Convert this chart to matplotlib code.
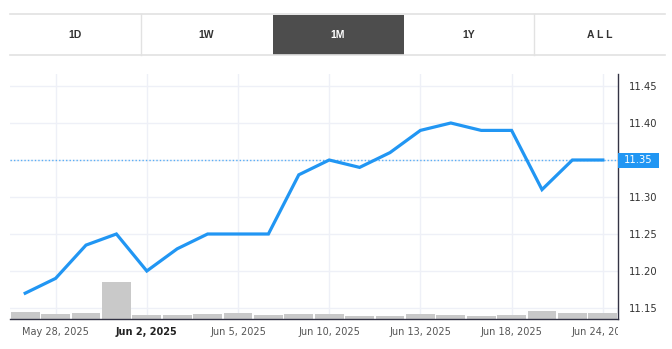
import numpy as np
import matplotlib
matplotlib.use("Agg")
import matplotlib.pyplot as plt
from matplotlib.patches import Rectangle
from matplotlib.lines import Line2D
from matplotlib.transforms import Bbox, TransformedBbox

# data (trading days, May 27 - Jun 24 2025)
dates = ["May 27", "May 28", "May 29", "May 30", "Jun 2", "Jun 3", "Jun 4", "Jun 5",
         "Jun 6", "Jun 9", "Jun 10", "Jun 11", "Jun 12", "Jun 13", "Jun 16", "Jun 17",
         "Jun 18", "Jun 20", "Jun 23", "Jun 24"]
price = [11.17, 11.19, 11.235, 11.25, 11.20, 11.23, 11.25, 11.25, 11.25, 11.33,
         11.35, 11.34, 11.36, 11.39, 11.40, 11.39, 11.39, 11.31, 11.35, 11.35]
volume = [67, 53, 57, 370, 37, 37, 47, 57, 37, 47,
          47, 27, 27, 47, 37, 27, 37, 83, 57, 57]
last_price = 11.35
xtick_pos = [1, 4, 7, 10, 13, 16, 19]
xtick_labels = ["May 28, 2025", "Jun 2, 2025", "Jun 5, 2025", "Jun 10, 2025",
                "Jun 13, 2025", "Jun 18, 2025", "Jun 24, 2025"]
yticks = [11.15, 11.20, 11.25, 11.30, 11.35, 11.40, 11.45]
buttons = ["1D", "1W", "1M", "1Y", "A L L"]
active = "1M"

W, H = 672, 349
fig = plt.figure(figsize=(W / 100, H / 100), dpi=100)

# ---- range buttons (pixel overlay) ----
top = fig.add_axes([0, 0, 1, 1])
top.set_xlim(0, W)
top.set_ylim(H, 0)
top.axis("off")
edges = [10, 140.5, 272.5, 403.5, 534, 665]
for i, b in enumerate(buttons):
    x0, x1 = edges[i], edges[i + 1]
    if b == active:
        top.add_patch(Rectangle((x0, 14.5), x1 - x0, 40, color="#4d4d4d", lw=0))
        col = "white"
    else:
        col = "#333333"
    top.text((x0 + x1) / 2, 35, b, ha="center", va="center", fontsize=7.5,
             fontweight="bold", color=col, family="Liberation Sans")
top.add_line(Line2D([10, 665], [14, 14], color="#e2e2e2", lw=1.2))
top.add_line(Line2D([10, 665], [55, 55], color="#e2e2e2", lw=1.2))
for xs in [140.5, 534]:
    top.add_line(Line2D([xs, xs], [14, 55], color="#e2e2e2", lw=1.0))

# ---- price chart ----
ax = fig.add_axes([10 / W, 30 / H, 608 / W, 245 / H])
idx = np.arange(len(price))
ax.set_xlim(-0.5, len(price) - 0.5)
step = 0.05 / 37
ax.set_ylim(11.15 - 11 * step, 11.45 + 12 * step)
ax.set_axisbelow(True)

vol_top = 2450
ax.bar(idx, np.array(volume) / vol_top, width=0.95, color="#c9c9c9",
       transform=ax.get_xaxis_transform(), zorder=1)
ax.axhline(last_price, color="#5aaef5", lw=1.0, ls=(0, (1, 1.5)), zorder=2)
ax.plot(idx, price, color="#2196f3", lw=2.3, solid_joinstyle="miter", zorder=3)

ax.yaxis.tick_right()
ax.set_yticks(yticks)
ax.set_yticklabels(["" if abs(v - last_price) < 1e-6 else f"{v:.2f}" for v in yticks])
ax.set_xticks(xtick_pos)
ax.set_xticklabels(xtick_labels)
ax.tick_params(axis="y", length=0, pad=8, labelsize=7.2, labelcolor="#333333")
ax.tick_params(axis="x", length=0, pad=6, labelsize=7, labelcolor="#555555")
ax.grid(True, color="#eef0f7", lw=1.0)

for s in ["left", "top"]:
    ax.spines[s].set_visible(False)
for s in ["right", "bottom"]:
    ax.spines[s].set_color("#333344")
    ax.spines[s].set_linewidth(1.0)

labels = ax.get_xticklabels()
labels[1].set_fontweight("bold")
labels[1].set_color("#222222")
clip = TransformedBbox(Bbox([[0, 0], [618 / W, 1]]), fig.transFigure)
for lab in labels:
    lab.set_clip_box(clip)
    lab.set_clip_on(True)

# last price tag
bt = ax.get_yaxis_transform()
ax.add_patch(Rectangle((1.0, last_price - 7.5 * step), 41 / 608, 15 * step,
                       transform=bt, color="#2196f3", lw=0, clip_on=False, zorder=5))
ax.text(1.0 + 20.5 / 608, last_price, f"{last_price:.2f}", transform=bt, ha="center",
        va="center", fontsize=7.2, color="white", clip_on=False, zorder=6)

fig.savefig("out.png", dpi=100)
